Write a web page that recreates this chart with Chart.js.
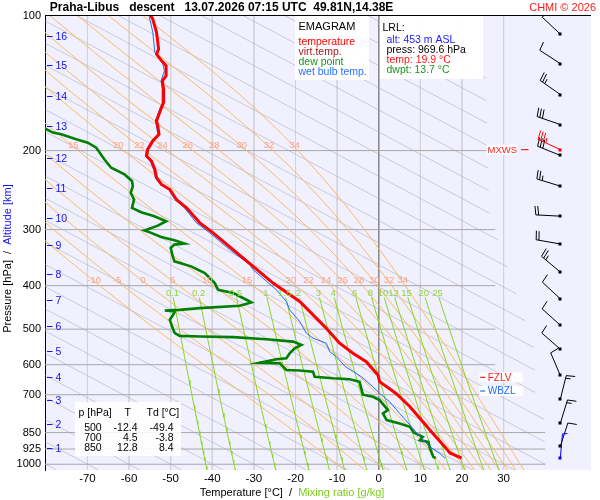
<!DOCTYPE html>
<html>
<head>
<meta charset="utf-8">
<script src="https://cdn.jsdelivr.net/npm/chart.js@4.4.1/dist/chart.umd.min.js"></script>
<style>
html,body{margin:0;padding:0;background:#ffffff;overflow:hidden;}
#box{position:relative;width:600px;height:500px;}
</style>
</head>
<body>
<div id="box"><canvas id="chart" width="600" height="500"></canvas></div>
<script>
// ---------------- data ----------------
const pressureTicks = [100, 200, 300, 400, 500, 600, 700, 850, 925, 1000];
const temperatureTicks = [-70, -60, -50, -40, -30, -20, -10, 0, 10, 20, 30];
const longGridLevels = [850, 925, 1000];

const altitudeKm = [1, 2, 3, 4, 5, 6, 7, 8, 9, 10, 11, 12, 13, 14, 15, 16];
const altitudePressure = [918, 815, 720, 639, 559, 493, 431, 376, 325, 282, 242, 208, 176, 151, 129, 111];

// [pressure hPa, temperature °C]
const temperatureProfile = [
  [100,-54.8],[101.8,-54.3],[109,-53.4],[118.8,-52.9],[121.9,-53.4],[125.1,-52.5],[129.5,-51.1],
  [136.3,-51.1],[139.9,-52.0],[146.0,-51.7],[156.3,-51.7],[160.4,-52.2],[171.8,-53.4],[176.3,-53.1],
  [184.0,-52.8],[190.4,-54.3],[198.7,-55.5],[205.7,-55.8],[211.1,-54.6],[220.3,-53.8],[229.9,-53.4],
  [238.0,-52.2],[244.2,-50.2],[257.1,-48.6],[268.3,-46.2],[289.8,-43.0],[305.1,-39.8],[332.5,-35.0],
  [362.3,-30.2],[394.7,-25.4],[433.8,-19.0],[489.1,-13.4],[500,-12.4],[537.4,-9.4],[565.8,-6.2],
  [590.8,-3.0],[632.6,-0.2],[654.8,0.2],[689.4,3.6],[700,4.5],[744.6,7.5],[804.3,10.6],[850,12.8],
  [861.4,13.4],[914.8,15.9],[943.5,17.1],[969.6,19.9]
];
const dewPointProfile = [
  [176,-81.5],[182.4,-78.3],[184.0,-76.3],[188.8,-72.7],[192.0,-69.9],[197.0,-67.9],[209.3,-65.9],
  [218.4,-64.3],[226.0,-61.1],[233.8,-59.3],[240.0,-59.1],[248.4,-59.6],[257.1,-58.8],[268.3,-59.3],
  [274.4,-57.1],[280.1,-53.9],[287.4,-51.1],[293.9,-53.1],[301.5,-56.3],[305.1,-54.7],[311.5,-52.3],
  [317.0,-49.1],[322.4,-46.7],[324.0,-49.1],[329.6,-50.0],[344.2,-49.5],[353.1,-49.1],[362.3,-45.1],
  [374.8,-41.8],[394.7,-39.4],[408.5,-38.6],[415.5,-35.0],[430.0,-31.8],[436.0,-30.6],[443.6,-33.4],
  [448.8,-43.0],[452.8,-47.8],[454.4,-51.4],[456.7,-49.0],[464.6,-49.4],[476.6,-50.2],[489.1,-49.8],
  [500,-49.4],[510.4,-49.0],[517.5,-47.8],[519.4,-43.0],[521.0,-35.0],[526.4,-27.0],[533.0,-20.6],
  [542.1,-18.6],[551.4,-20.2],[565.8,-21.4],[580.5,-22.2],[583.5,-24.6],[593.8,-28.6],[595.6,-23.8],
  [606.1,-23.0],[616.5,-22.2],[618.1,-19.0],[621.9,-15.8],[638.1,-15.4],[643.4,-11.0],[646.7,-7.0],
  [654.8,-4.6],[677.4,-4.2],[700,-3.8],[707.3,-1.4],[719.4,0.2],[757.4,2.2],[770.4,1.0],[797.4,1.9],
  [811.0,5.0],[825.3,7.5],[850,8.4],[868.9,10.6],[883.8,9.9],[891.5,11.9],[922.5,12.3],[963.1,13.1],
  [969.6,13.7]
];
const wetBulbProfile = [
  [100,-55.2],[109,-54.3],[120.8,-53.8],[127.2,-52.0],[132.8,-51.5],[139.9,-52.3],[146,-52.0],
  [156.3,-52.0],[160.4,-52.5],[171.8,-53.7],[176.3,-53.4],[184,-53.1],[190.4,-54.6],[198.7,-55.8],
  [205.7,-56.1],[211.1,-54.9],[220.3,-54.1],[229.9,-53.7],[238,-52.5],[244.2,-50.5],[257.1,-49.0],
  [268.3,-46.7],[289.8,-43.8],[305.1,-40.6],[332.5,-35.8],[359.2,-31.0],[368.5,-30.2],[408.5,-24.6],
  [433.8,-22.2],[452.8,-21.4],[480.8,-19.0],[510.4,-17.4],[523.7,-15.8],[537.4,-12.6],[561.1,-11.8],
  [575.7,-10.2],[606.1,-8.0],[638.1,-4.2],[672,-1.4],[695,0.2],[725.7,2.6],[770.4,5.0],[818.2,7.5],
  [868.9,9.9],[914.8,12.3],[946.4,14.7],[969.6,15.9]
];

const windPressure  = [110, 128, 150, 175, 199, 205, 240, 280, 323, 373, 428, 490, 554, 634, 717, 811, 912, 970];
const windDirection = [313, 303, 305, 289, 295, 292, 287, 273, 280, 310, 313, 312, 311, 337, 14, 17, 18, 5];
const windSpeed     = [10, 10, 25, 30, 35, 30, 25, 20, 20, 25, 10, 10, 10, 10, 15, 15, 10, 5];
const maxWindIndex = 4;

const moistAdiabatThetaW = [-10, -5, 0, 5, 10, 15, 20, 22, 24, 26, 28, 30, 32, 34];
const upperMoistLabels = [15, 20, 22, 24, 26, 28, 30, 32, 34];
// gray guide lines: temperature where each one meets 1000 hPa
const grayLineBase = [-80,-70,-60,-50,-40,-30,-20,-10,0,10,20,30,40,50,60,70,80,90,100,110,120,130,140,150,160,170,180,190,200];
const mixingRatios = [0.1, 0.2, 0.5, 1, 1.5, 2, 3, 4, 6, 8, 10, 12, 15, 20, 25];

const tableHeader = ['p [hPa]', 'T', 'Td [°C]'];
const tableRows = [['500', '-12.4', '-49.4'], ['700', '4.5', '-3.8'], ['850', '12.8', '8.4']];
const titleText = 'Praha-Libus   descent   13.07.2026 07:15 UTC  49.81N,14.38E';
const legendItems = [['temperature', '#ff0000'], ['virt.temp.', '#a01e1e'], ['dew point', '#1a961a'], ['wet bulb temp.', '#2a70ff']];
const lrlItems = [['alt: 453 m ASL', '#1a1aff'], ['press: 969.6 hPa', '#000000'], ['temp: 19.9 °C', '#ff1a1a'], ['dwpt: 13.7 °C', '#1a961a']];

// ---------------- helpers ----------------
const FONT = '"Liberation Sans", Arial, Helvetica, sans-serif';
const P_MIN = 100, P_MAX = 1030, T_MIN = -80.2, T_MAX = 51;
const GRAY_SLOPE = 88; // °C per e-fold of pressure

function toPts(arr){ return arr.map(d => ({x: d[1], y: d[0]})); }

function grayLimit(p){ // right end of the gray guide lines
  const lim = [[100,26],[300,28],[600,39],[850,40],[1030,40]];
  for (let i = 0; i < lim.length - 1; i++){
    if (p <= lim[i+1][0]){
      const f = (Math.log(p) - Math.log(lim[i][0])) / (Math.log(lim[i+1][0]) - Math.log(lim[i][0]));
      return lim[i][1] + f * (lim[i+1][1] - lim[i][1]);
    }
  }
  return 40;
}
function grayLine(t0){
  const pts = [];
  for (let i = 0; i <= 102; i++){
    const p = Math.min(P_MAX, 100 * Math.pow(10, i / 100));
    const T = t0 + GRAY_SLOPE * Math.log(p / 1000);
    if (T <= grayLimit(p)) pts.push({x: T, y: p});
  }
  return pts;
}
function dTdp(T, p){
  const Rd = 287.04, cp = 1005.7, Lv = 2.501e6, eps = 0.622;
  const Tc = T - 273.15;
  const es = 6.112 * Math.exp(17.67 * Tc / (Tc + 243.5));
  const rs = eps * es / (p - es);
  return ((Rd * T + Lv * rs) / p) / (cp + (Lv * Lv * rs * eps) / (Rd * T * T));
}
function moistAdiabat(thetaW){
  let T = thetaW + 273.15;
  for (let p = 1000; p < P_MAX; p += 2){ const k1 = dTdp(T, p); const k2 = dTdp(T + k1, p + 1); T += 2 * k2; }
  const pts = [{x: T - 273.15, y: P_MAX}];
  T = thetaW + 273.15;
  for (let p = 1000; p > 100; p -= 2){
    if (p % 10 === 0) pts.push({x: T - 273.15, y: p});
    const k1 = dTdp(T, p); const k2 = dTdp(T - k1, p - 1); T -= 2 * k2;
  }
  pts.push({x: T - 273.15, y: 100});
  return pts;
}
function mixTemp(w, p){
  const e = w * p / (622 + w);
  const l = Math.log(e / 6.112);
  return 243.5 * l / (17.67 - l);
}
function mixLine(w){
  const pts = [];
  for (let p = 425; p < P_MAX; p += 15) pts.push({x: mixTemp(w, p), y: p});
  pts.push({x: mixTemp(w, P_MAX), y: P_MAX});
  return pts;
}
function interpT(pts, p){
  for (let i = 0; i < pts.length - 1; i++){
    const a = pts[i], b = pts[i+1];
    if ((a.y - p) * (b.y - p) <= 0){
      const f = (Math.log(p) - Math.log(a.y)) / (Math.log(b.y) - Math.log(a.y));
      return a.x + f * (b.x - a.x);
    }
  }
  return pts[pts.length-1].x;
}
function zeroCrossing(profile){
  for (let i = 0; i < profile.length - 1; i++){
    const a = profile[i], b = profile[i+1];
    if (a[1] < 0 && b[1] >= 0){
      const f = (0 - a[1]) / (b[1] - a[1]);
      return Math.exp(Math.log(a[0]) + f * (Math.log(b[0]) - Math.log(a[0])));
    }
  }
  return null;
}

// ---------------- datasets ----------------
const datasets = [];
function addLine(points, color, width, order){
  datasets.push({data: points, borderColor: color, backgroundColor: color, borderWidth: width,
    pointRadius: 0, showLine: true, fill: false, tension: 0, order: order});
}
temperatureTicks.forEach(t => addLine([{x: t, y: P_MIN}, {x: t, y: P_MAX}], t === 0 ? '#8a8a8a' : '#d4d4d8', 1, 200));
pressureTicks.slice(1).forEach(p => addLine([{x: T_MIN, y: p}, {x: longGridLevels.includes(p) ? 40 : 28, y: p}], '#a8a8a8', 1, 190));
grayLineBase.forEach(t0 => addLine(grayLine(t0), 'rgba(165,165,175,0.5)', 1, 180));
const moistCurves = moistAdiabatThetaW.map(tw => moistAdiabat(tw));
moistCurves.forEach(c => addLine(c, '#ffb862', 1, 170));
mixingRatios.forEach(w => addLine(mixLine(w), '#88d41e', 1, 160));
addLine(toPts(dewPointProfile), '#008000', 2.6, 3);
addLine(toPts(wetBulbProfile), '#1f6bff', 1, 2);
addLine(toPts(temperatureProfile), '#ff0000', 3, 1);

// ---------------- plugins ----------------
const background = {
  id: 'background',
  beforeDraw(chart){
    const {ctx, chartArea: ca} = chart;
    ctx.save();
    ctx.fillStyle = '#f0f0ff';
    ctx.fillRect(ca.left, ca.top, ca.right - ca.left, ca.bottom - ca.top);
    ctx.restore();
  }
};

function drawBarb(ctx, x, y, dir, spd, color){
  const L = 24.5, step = 2.8, full = 9, half = 5;
  const r = dir * Math.PI / 180;
  const ux = Math.sin(r), uy = -Math.cos(r);
  let bx = -uy + 0.15 * ux, by = ux + 0.15 * uy;
  const bl = Math.hypot(bx, by); bx /= bl; by /= bl;
  const ex = x + L * ux, ey = y + L * uy;
  ctx.strokeStyle = color; ctx.fillStyle = color; ctx.lineWidth = 1;
  ctx.beginPath(); ctx.moveTo(x, y); ctx.lineTo(ex, ey); ctx.stroke();
  let s = Math.round(spd / 5) * 5, pos = 0;
  while (s >= 10){
    const sx = ex - pos * ux, sy = ey - pos * uy;
    ctx.beginPath(); ctx.moveTo(sx, sy); ctx.lineTo(sx + full * bx, sy + full * by); ctx.stroke();
    s -= 10; pos += step;
  }
  if (s >= 5){
    const sx = ex - pos * ux, sy = ey - pos * uy;
    ctx.beginPath(); ctx.moveTo(sx, sy); ctx.lineTo(sx + half * bx, sy + half * by); ctx.stroke();
  }
  ctx.fillRect(Math.round(x) - 1.5, Math.round(y) - 1.5, 3, 3);
}

function labelBox(ctx, text, color, x, y, font){
  ctx.font = font;
  ctx.fillStyle = 'rgba(255,255,255,0.92)';
  ctx.fillRect(x - 8.5, y - 5, 44, 10);
  ctx.strokeStyle = color; ctx.lineWidth = 1.2;
  ctx.beginPath(); ctx.moveTo(x - 7.5, y); ctx.lineTo(x - 2.5, y); ctx.stroke();
  ctx.fillStyle = color; ctx.textAlign = 'left'; ctx.textBaseline = 'middle';
  ctx.fillText(text, x, y + 0.5);
}

const overlay = {
  id: 'overlay',
  afterDatasetsDraw(chart){
    const {ctx, chartArea: ca, scales: {x: xs, y: ys}} = chart;
    ctx.save();
    // top border
    ctx.strokeStyle = '#000'; ctx.lineWidth = 1;
    ctx.beginPath(); ctx.moveTo(ca.left, ca.top); ctx.lineTo(ca.right, ca.top); ctx.stroke();

    // moist adiabat labels
    ctx.font = '9.5px ' + FONT; ctx.fillStyle = '#ffa283'; ctx.textAlign = 'center'; ctx.textBaseline = 'middle';
    const lowerP = 388.5, upperP = 194.3, mixP = 416.3;
    moistCurves.forEach((c, i) => {
      ctx.fillText(String(moistAdiabatThetaW[i]), xs.getPixelForValue(interpT(c, lowerP)) + 1.5, ys.getPixelForValue(lowerP));
      if (upperMoistLabels.includes(moistAdiabatThetaW[i])){
        const px = xs.getPixelForValue(interpT(c, upperP)) + 2;
        if (px > ca.left + 8) ctx.fillText(String(moistAdiabatThetaW[i]), px, ys.getPixelForValue(upperP));
      }
    });
    // mixing ratio labels
    ctx.fillStyle = '#90d43c';
    mixingRatios.forEach(w => ctx.fillText(String(w), xs.getPixelForValue(mixTemp(w, mixP)), ys.getPixelForValue(mixP)));

    // altitude labels
    ctx.font = '10.5px ' + FONT; ctx.textAlign = 'left'; ctx.fillStyle = '#1414f0'; ctx.strokeStyle = '#1414f0';
    altitudeKm.forEach((km, i) => {
      const yy = Math.round(ys.getPixelForValue(altitudePressure[i])) + 0.5;
      ctx.beginPath(); ctx.moveTo(ca.left + 2, yy); ctx.lineTo(ca.left + 7.5, yy); ctx.stroke();
      ctx.fillText(String(km), ca.left + 10.5, yy + 0.5);
    });

    // FZLV / WBZL / MXWS labels
    const fz = zeroCrossing(temperatureProfile), wb = zeroCrossing(wetBulbProfile);
    labelBox(ctx, 'FZLV', '#ff1a1a', 487.7, ys.getPixelForValue(fz) - 1, '10px ' + FONT);
    labelBox(ctx, 'WBZL', '#1f6bff', 487.7, ys.getPixelForValue(wb) - 1.5, '10px ' + FONT);
    const my = ys.getPixelForValue(windPressure[maxWindIndex]);
    ctx.font = '9.5px ' + FONT;
    ctx.fillStyle = 'rgba(255,255,255,0.95)'; ctx.fillRect(486.5, my - 5, 31, 10);
    ctx.fillStyle = '#ff2020'; ctx.textAlign = 'left'; ctx.fillText('MXWS', 487.5, my + 0.5);
    ctx.strokeStyle = '#ff2020'; ctx.lineWidth = 1.2;
    ctx.beginPath(); ctx.moveTo(521, my); ctx.lineTo(528.5, my); ctx.stroke();

    // wind barbs
    ctx.save();
    ctx.beginPath(); ctx.rect(ca.left, ca.top, ca.right - ca.left, ca.bottom - ca.top); ctx.clip();
    const bxp = ca.right - 30.7;
    windPressure.forEach((p, i) => {
      if (i === maxWindIndex) return;
      const col = (i === windPressure.length - 1) ? '#0000ff' : '#000000';
      drawBarb(ctx, bxp, ys.getPixelForValue(p), windDirection[i], windSpeed[i], col);
    });
    drawBarb(ctx, bxp, ys.getPixelForValue(windPressure[maxWindIndex]), windDirection[maxWindIndex], windSpeed[maxWindIndex], '#ff0000');
    ctx.restore();

    // EMAGRAM legend box
    ctx.fillStyle = 'rgba(255,255,255,0.96)';
    ctx.fillRect(295, ca.top + 0.5, 74, 64);
    ctx.textAlign = 'left'; ctx.textBaseline = 'middle';
    ctx.font = '11px ' + FONT; ctx.fillStyle = '#000';
    ctx.fillText('EMAGRAM', 298.5, 27);
    ctx.font = '10.5px ' + FONT;
    legendItems.forEach((it, i) => { ctx.fillStyle = it[1]; ctx.fillText(it[0], 298.5, 42.5 + i * 9.8); });

    // LRL box
    ctx.fillStyle = 'rgba(255,255,255,0.96)';
    ctx.fillRect(380, ca.top + 0.5, 103, 63);
    ctx.fillStyle = '#000'; ctx.font = '10.5px ' + FONT;
    ctx.fillText('LRL:', 382.5, 28.5);
    lrlItems.forEach((it, i) => { ctx.fillStyle = it[1]; ctx.fillText(it[0], 386.5, 40 + i * 10); });

    // table box
    ctx.fillStyle = 'rgba(255,255,255,0.88)';
    ctx.fillRect(75, 402, 106, 54);
    ctx.fillStyle = '#000'; ctx.font = '10.5px ' + FONT;
    ctx.textAlign = 'left'; ctx.fillText(tableHeader[0], 78.5, 413.5);
    ctx.textAlign = 'center'; ctx.fillText(tableHeader[1], 127.7, 413.5);
    ctx.textAlign = 'left'; ctx.fillText(tableHeader[2], 146.5, 413.5);
    tableRows.forEach((r, i) => {
      const yy = 428.5 + i * 10;
      ctx.textAlign = 'right';
      ctx.fillText(r[0], 101.7, yy); ctx.fillText(r[1], 137.5, yy); ctx.fillText(r[2], 173.5, yy);
    });
    ctx.restore();
  },
  afterDraw(chart){
    const {ctx} = chart;
    ctx.save();
    ctx.textBaseline = 'middle';
    // title
    ctx.font = 'bold 12px ' + FONT; ctx.fillStyle = '#000'; ctx.textAlign = 'left';
    ctx.fillText(titleText, 49.8, 8);
    ctx.font = '11px ' + FONT; ctx.fillStyle = '#ff1a1a'; ctx.textAlign = 'right';
    ctx.fillText('CHMI © 2026', 596, 8);
    // x axis title
    ctx.font = '11px ' + FONT; ctx.textAlign = 'left';
    const a = 'Temperature [°C]  /  ', b = 'Mixing ratio [g/kg]';
    const wa = ctx.measureText(a).width, wbb = ctx.measureText(b).width;
    let sx = 292 - (wa + wbb) / 2;
    ctx.fillStyle = '#000'; ctx.fillText(a, sx, 493);
    ctx.fillStyle = '#7ccc1e'; ctx.fillText(b, sx + wa, 493);
    // y axis title
    ctx.translate(7.5, 258.5); ctx.rotate(-Math.PI / 2);
    const c = 'Pressure [hPa]  /  ', d = 'Altitude [km]';
    const wc = ctx.measureText(c).width, wd = ctx.measureText(d).width;
    sx = -(wc + wd) / 2;
    ctx.fillStyle = '#000'; ctx.fillText(c, sx, 0);
    ctx.fillStyle = '#1414f0'; ctx.fillText(d, sx + wc, 0);
    ctx.restore();
  }
};

new Chart(document.getElementById('chart'), {
  type: 'scatter',
  data: {datasets: datasets},
  options: {
    responsive: false,
    animation: false,
    events: [],
    layout: {padding: {top: 15.5, right: 9, bottom: 0, left: 0}},
    plugins: {legend: {display: false}, tooltip: {enabled: false}, title: {display: false}},
    scales: {
      x: {
        type: 'linear', position: 'bottom', min: T_MIN, max: T_MAX,
        grid: {display: false, drawTicks: false}, border: {display: false},
        ticks: {color: '#000', font: {size: 11.5, family: FONT}, padding: 2, autoSkip: false, maxRotation: 0,
                callback: v => String(v)},
        afterBuildTicks: s => { s.ticks = temperatureTicks.map(v => ({value: v})); },
        afterFit: s => { s.height = 30; }
      },
      y: {
        type: 'logarithmic', position: 'left', reverse: true, min: P_MIN, max: P_MAX,
        grid: {display: false, drawTicks: false}, border: {display: true, color: '#000', width: 1},
        ticks: {color: '#000', font: {size: 11, family: FONT}, padding: 4, autoSkip: false,
                callback: v => String(v)},
        afterBuildTicks: s => { s.ticks = pressureTicks.map(v => ({value: v})); },
        afterFit: s => { s.width = 45; }
      }
    }
  },
  plugins: [background, overlay]
});
</script>
</body>
</html>
